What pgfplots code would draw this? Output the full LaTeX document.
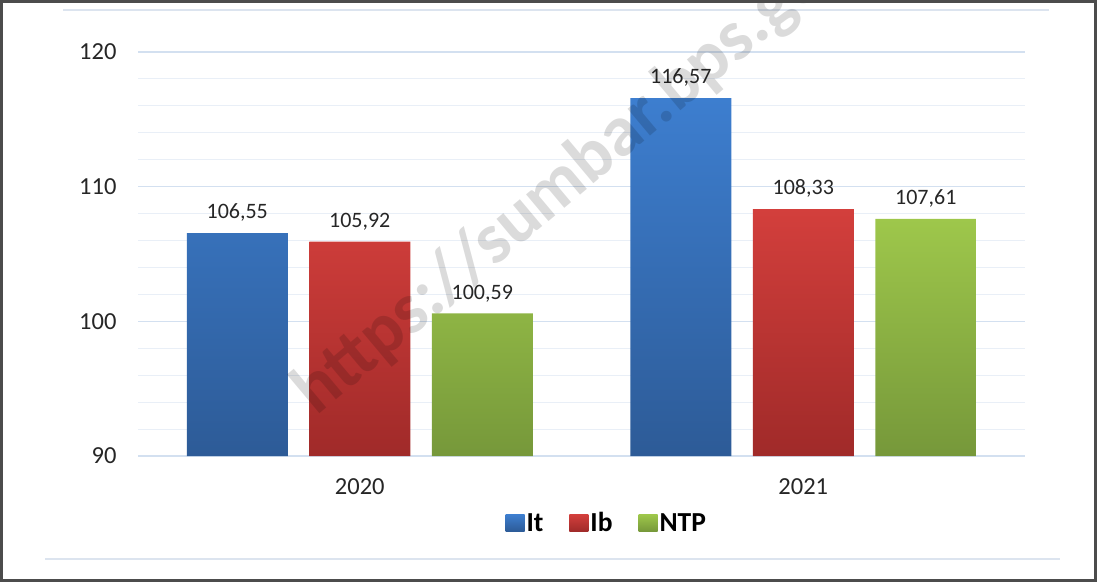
\documentclass[border=0pt]{standalone}
\usepackage{pgfplots}
\pgfplotsset{compat=1.18}
\usepackage{fontspec}
\setmainfont{Carlito}
\definecolor{blueT}{HTML}{3D7ECF}
\definecolor{blueB}{HTML}{2D5B97}
\definecolor{redT}{HTML}{D33F3C}
\definecolor{redB}{HTML}{A02A29}
\definecolor{greenT}{HTML}{9EC74B}
\definecolor{greenB}{HTML}{76983A}
\definecolor{gridmaj}{HTML}{D3E0F0}
\definecolor{gridmin}{HTML}{E9EFF7}
\definecolor{framel}{HTML}{DCE4EF}
\begin{document}
\begin{tikzpicture}[x=1pt,y=1pt]
\path (0,0) rectangle (1097,582);
\draw[framel, line width=2pt] (63,572) -- (1049,572);
\draw[framel, line width=2pt] (45,23) -- (1060,23);
\begin{axis}[
  at={(138pt,126pt)}, anchor=south west,
  scale only axis, width=887pt, height=404pt,
  xmin=-0.5, xmax=1.5, ymin=0, ymax=30,
  y filter/.expression={y-90},
  xtick={0,1}, xticklabels={2020,2021},
  ytick={0,10,20,30}, yticklabels={90,100,110,120},
  minor ytick={2,4,...,28},
  ymajorgrids, yminorgrids,
  major grid style={gridmaj, line width=1.3pt},
  minor grid style={gridmin, line width=1pt},
  axis line style={draw=none},
  major tick length=0pt, minor tick length=0pt,
  yticklabel style={font=\fontsize{24.5}{28}\selectfont, text=black!85, xshift=-18pt},
  xticklabel style={font=\fontsize{24.5}{28}\selectfont, text=black!85, yshift=-19pt},
  ybar, bar width=101pt,
  point meta=rawy,
  nodes near coords,
  every node near coord/.append style={font=\fontsize{22}{26}\selectfont, text=black!85, yshift=8pt},
  /pgf/number format/.cd, fixed, fixed zerofill, precision=2, use comma, assume math mode=true,
  /pgfplots/.cd,
  legend columns=3,
  legend style={at={(rel axis cs:0.5285,-0.1658)}, anchor=center, draw=none, fill=none,
    font=\fontsize{27.5}{30}\selectfont\bfseries, column sep=0pt,
    nodes={inner sep=2pt},
    /tikz/every even column/.append style={column sep=24pt}},
  legend image code/.code={\draw[#1, draw=none] (0pt,-8.5pt) rectangle (19pt,8.5pt);},
]
\addplot[draw=none, top color=blueT, bottom color=blueB, bar shift=-122.5pt] coordinates {(0,106.55) (1,116.57)};
\addplot[draw=none, top color=redT, bottom color=redB, bar shift=0pt] coordinates {(0,105.92) (1,108.33)};
\addplot[draw=none, top color=greenT, bottom color=greenB, bar shift=122.5pt] coordinates {(0,100.59) (1,107.61)};
\legend{It, Ib, NTP}
\end{axis}
\begin{scope}
\clip (4,4) rectangle (1093,578);
\node[rotate=40, text=black, text opacity=0.14, font=\fontsize{72}{76}\selectfont\bfseries, anchor=west, inner sep=0pt] at (304,180) {https://sumbar.bps.go.id};
\end{scope}
\draw[line width=3pt, black!70] (1.5,1.5) rectangle (1095.5,580.5);
\end{tikzpicture}
\end{document}
